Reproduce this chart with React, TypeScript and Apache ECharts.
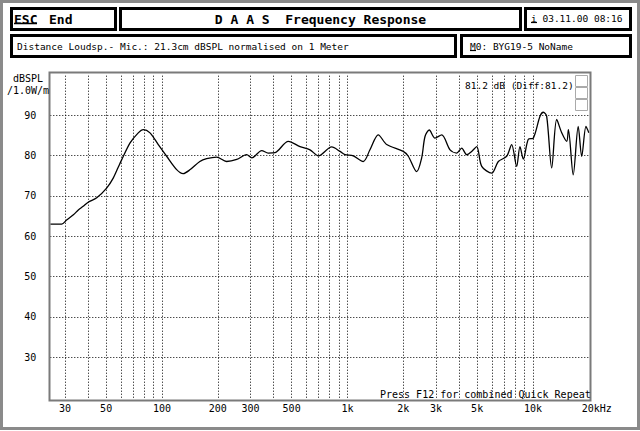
import React, { useEffect, useRef } from 'react';
import * as echarts from 'echarts';

// Frequency response curve (Hz, dB SPL)
const freqHz = [
  25, 28.8, 30.6, 33.3, 35.4, 37.6, 40, 44.5, 50.3, 54.6,
  58, 60.6, 67.3, 74.5, 79.3, 86.2, 95.5, 106, 120, 130,
  142, 160, 174, 197, 223, 253, 286, 305, 345, 374,
  407, 480, 555, 628, 697, 822, 912, 970, 1075, 1216,
  1322, 1466, 1627, 2000, 2128, 2360, 2512, 2618, 2760, 2963,
  3221, 3572, 3880, 4130, 4393, 4673, 4974, 5295, 5997, 6505,
  7215, 7676, 8165, 8510, 8870, 9440, 10045, 10913, 11376, 11858,
  12618, 13428, 14290, 15206, 15523, 16480, 17538, 18320, 19317, 20000,
];
const levelDb = [
  63.0, 63.0, 64.0, 65.3, 66.5, 67.4, 68.4, 69.5, 71.9, 74.4,
  77.0, 78.9, 83.1, 85.6, 86.4, 85.6, 82.7, 79.8, 76.5, 75.5,
  76.5, 78.5, 79.2, 79.6, 78.5, 79.0, 80.2, 79.4, 81.2, 80.6,
  80.7, 83.5, 82.2, 81.4, 79.9, 82.1, 81.0, 80.2, 79.9, 78.5,
  81.4, 85.1, 82.7, 81.0, 79.8, 76.0, 79.4, 84.7, 86.3, 84.3,
  85.1, 81.4, 80.6, 81.8, 80.2, 81.0, 82.2, 77.3, 75.6, 78.5,
  79.8, 82.7, 77.3, 82.2, 79.1, 84.0, 84.3, 89.7, 90.7, 89.7,
  76.9, 88.9, 85.6, 83.5, 86.4, 75.2, 87.2, 79.8, 87.2, 85.6,
];

// Vertical grid (Hz) and horizontal grid (dB)
const gridFreqs = [
  30, 40, 50, 60, 70, 80, 90, 100,
  200, 300, 400, 500, 600, 700, 800, 900, 1000,
  2000, 3000, 4000, 5000, 6000, 7000, 8000, 9000, 10000,
];
const gridLevels = [30, 40, 50, 60, 70, 80, 90];

// X tick labels
const xTickFreqs = [30, 50, 100, 200, 300, 500, 1000, 2000, 3000, 5000, 10000, 20000];
const xTickLabels = ['30', '50', '100', '200', '300', '500', '1k', '2k', '3k', '5k', '10k', '20kHz'];

const MONO = "'DejaVu Sans Mono', 'Liberation Mono', monospace";

function txt(x: number, y: number, text: string, size: number, opts: any = {}) {
  return {
    type: 'text',
    x,
    y,
    z: 10,
    style: {
      text,
      fill: '#000',
      fontFamily: MONO,
      fontSize: size,
      fontWeight: opts.bold ? 'bold' : 'normal',
      align: opts.align || 'left',
      verticalAlign: 'middle',
    },
  };
}

function box(x: number, y: number, w: number, h: number) {
  return {
    type: 'rect',
    z: 10,
    shape: { x, y, width: w, height: h },
    style: { fill: 'none', stroke: '#000', lineWidth: 3 },
  };
}

function hline(x1: number, x2: number, y: number, w = 1.2) {
  return {
    type: 'line',
    z: 10,
    shape: { x1, y1: y, x2, y2: y },
    style: { stroke: '#000', lineWidth: w },
  };
}

function grayRect(x: number, y: number, w: number, h: number, color: string, lw: number) {
  return {
    type: 'rect',
    z: 10,
    shape: { x, y, width: w, height: h },
    style: { fill: 'none', stroke: color, lineWidth: lw },
  };
}

export default function App() {
  const ref = useRef<HTMLDivElement>(null);

  useEffect(() => {
    if (!ref.current) return;
    const chart = echarts.init(ref.current, null, { renderer: 'svg' });
    const curve = freqHz.map((f, i) => [f, levelDb[i]]);

    const option: any = {
      animation: false,
      backgroundColor: '#fff',
      grid: {
        left: 50.3,
        top: 74.7,
        width: 538.5,
        height: 323,
        containLabel: false,
        outerBoundsMode: 'none',
      },
      xAxis: {
        type: 'log',
        logBase: 10,
        min: 25,
        max: 20000,
        axisLine: { show: false },
        axisTick: { show: false },
        axisLabel: { show: false },
        splitLine: { show: false },
      },
      yAxis: {
        type: 'value',
        min: 20,
        max: 100,
        interval: 10,
        axisLine: { show: false },
        axisTick: { show: false },
        splitLine: { show: false },
        axisLabel: {
          color: '#000',
          fontFamily: MONO,
          fontSize: 10,
          margin: 14,
          formatter: (v: number) => (v === 20 || v === 100 ? '' : String(v)),
        },
      },
      series: [
        {
          type: 'line',
          data: curve,
          symbol: 'none',
          smooth: 0.3,
          lineStyle: { color: '#000', width: 1.3 },
          z: 5,
          markLine: {
            silent: true,
            symbol: ['none', 'none'],
            label: { show: false },
            lineStyle: { color: '#000', width: 1, type: [1, 2] },
            data: [
              ...gridFreqs.map((f) => ({ xAxis: f })),
              ...gridLevels.map((v) => ({ yAxis: v })),
            ],
          },
        },
        {
          type: 'line',
          data: curve,
          symbol: 'none',
          lineStyle: { color: 'rgba(0,0,0,0)', width: 0 },
          z: 1,
          markLine: {
            silent: true,
            symbol: ['none', 'none'],
            lineStyle: { color: 'rgba(0,0,0,0)', width: 1, type: 'solid' },
            label: {
              show: true,
              position: 'start',
              distance: 6,
              color: '#000',
              fontFamily: MONO,
              fontSize: 10,
            },
            data: xTickFreqs.map((f, i) => ({
              xAxis: f,
              label: {
                formatter: xTickLabels[i],
                padding: i === xTickFreqs.length - 1 ? [0, 0, 0, 16] : 0,
              },
            })),
          },
        },
      ],
      graphic: [
        // outer dithered window border
        grayRect(1.5, 1.5, 637, 427, '#8a8a8a', 3),
        // plot frame
        grayRect(49.5, 72.5, 541, 328, '#7a7a7a', 2),
        // header boxes
        box(11.5, 8.5, 104, 21),
        box(120.5, 8.5, 400, 21),
        box(525.5, 8.5, 105, 21),
        box(11.5, 35.5, 444, 21),
        box(461.5, 35.5, 169, 21),
        // header texts
        txt(14, 19, 'ESC', 13, { bold: true }),
        hline(14, 37, 23.5, 1.5),
        txt(49, 19, 'End', 13, { bold: true }),
        txt(320.5, 19, 'D A A S  Frequency Response', 13, { bold: true, align: 'center' }),
        txt(531, 18, 'i 03.11.00 08:16', 9.5),
        hline(531, 537, 22.5, 1.2),
        txt(17, 46, 'Distance Loudsp.- Mic.: 21.3cm dBSPL normalised on 1 Meter', 9.5),
        txt(470, 46, 'M0: BYG19-5 NoName', 9.5),
        hline(470, 476, 50.5, 1.2),
        // y axis unit
        txt(28, 78, 'dBSPL', 10, { align: 'center' }),
        txt(28, 90, '/1.0W/m', 10, { align: 'center' }),
        // annotations
        txt(465, 85, '81.2 dB (Diff:81.2)', 9.5),
        txt(380, 394, 'Press F12 for combined Quick Repeat', 10),
        // level indicator at top right
        grayRect(575.5, 75.5, 12, 11, '#aaa', 1),
        grayRect(575.5, 87.5, 12, 11, '#aaa', 1),
        grayRect(575.5, 99.5, 12, 11, '#aaa', 1),
      ],
    };

    chart.setOption(option);
    return () => {
      chart.dispose();
    };
  }, []);

  return (
    <div
      ref={ref}
      style={{ position: 'fixed', left: 0, top: 0, width: 640, height: 431, background: '#fff' }}
    />
  );
}
